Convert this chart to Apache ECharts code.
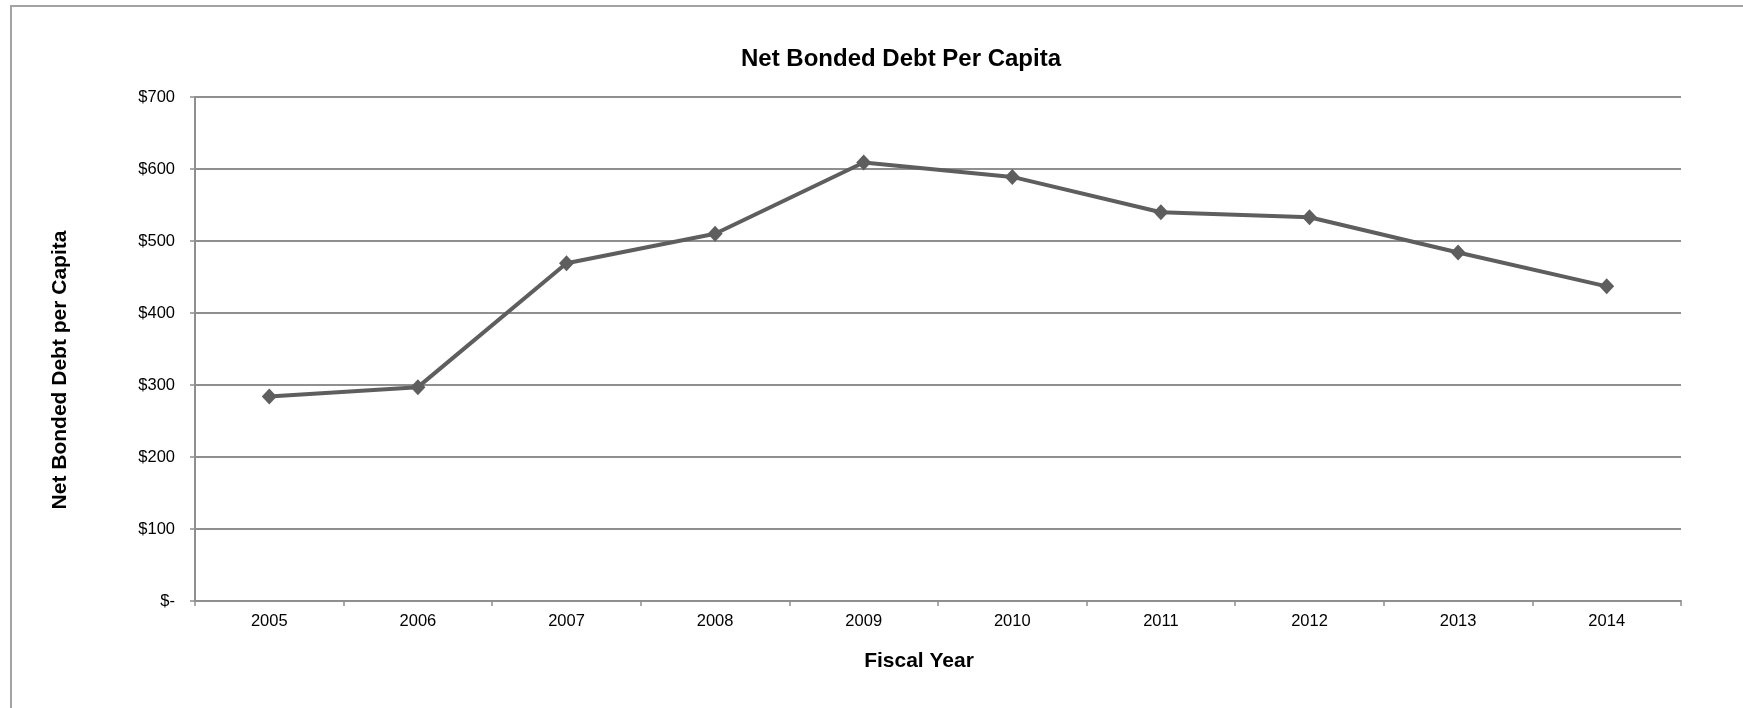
<!DOCTYPE html>
<html>
<head>
<meta charset="utf-8">
<script src="https://cdn.jsdelivr.net/npm/echarts@6/dist/echarts.min.js"></script>
<style>
  html, body { margin: 0; padding: 0; background: #ffffff; }
  #chart { width: 1743px; height: 708px; }
</style>
</head>
<body>
<div id="chart"></div>
<script>
const chartTitle = 'Net Bonded Debt Per Capita';
const xAxisTitle = 'Fiscal Year';
const yAxisTitle = 'Net Bonded Debt per Capita';
const years = ['2005', '2006', '2007', '2008', '2009', '2010', '2011', '2012', '2013', '2014'];
const debtPerCapita = [284, 297, 469, 510, 609, 589, 540, 533, 484, 437];
const yTicks = { min: 0, max: 700, interval: 100 };

const chart = echarts.init(document.getElementById('chart'), null, { renderer: 'canvas' });
const font = '"Liberation Sans", Arial, "DejaVu Sans", sans-serif';
const gridColor = '#8f8f8f';

chart.setOption({
  backgroundColor: '#ffffff',
  animation: false,
  graphic: [
    {
      type: 'rect',
      shape: { x: 11, y: 6, width: 1800, height: 800 },
      style: { fill: 'none', stroke: '#a3a3a3', lineWidth: 2 },
      silent: true, z: 0
    },
    {
      type: 'text',
      x: 901, y: 59,
      style: {
        text: chartTitle, x: 0, y: 0, align: 'center', verticalAlign: 'middle',
        font: 'bold 24px ' + font, fill: '#000000'
      }
    },
    {
      type: 'text',
      x: 919, y: 661,
      style: {
        text: xAxisTitle, x: 0, y: 0, align: 'center', verticalAlign: 'middle',
        font: 'bold 21px ' + font, fill: '#000000'
      }
    },
    {
      type: 'text',
      x: 60, y: 370, rotation: Math.PI / 2,
      style: {
        text: yAxisTitle, x: 0, y: 0, align: 'center', verticalAlign: 'middle',
        font: 'bold 21px ' + font, fill: '#000000'
      }
    }
  ],
  grid: { left: 195, right: 62, top: 97, bottom: 107, containLabel: false },
  xAxis: {
    type: 'category',
    data: years,
    boundaryGap: true,
    axisLine: { show: true, lineStyle: { color: gridColor, width: 2 } },
    axisTick: { show: true, alignWithLabel: false, length: 5, lineStyle: { color: gridColor, width: 1.5 } },
    axisLabel: { color: '#000000', fontSize: 16.5, fontFamily: font, margin: 12 },
    splitLine: { show: false }
  },
  yAxis: {
    type: 'value',
    min: yTicks.min, max: yTicks.max, interval: yTicks.interval,
    axisLine: { show: true, lineStyle: { color: gridColor, width: 2 } },
    axisTick: { show: true, length: 5, lineStyle: { color: gridColor, width: 1.5 } },
    axisLabel: {
      color: '#000000', fontSize: 16.5, fontFamily: font, margin: 20,
      formatter: function (v) { return v === 0 ? '$-' : '$' + v; }
    },
    splitLine: { show: true, lineStyle: { color: gridColor, width: 2 } }
  },
  series: [{
    type: 'line',
    data: debtPerCapita,
    symbol: 'diamond',
    symbolSize: [15, 16],
    showAllSymbol: true,
    lineStyle: { color: '#5e5e5e', width: 4 },
    itemStyle: { color: '#5e5e5e' },
    z: 5
  }]
});
</script>
</body>
</html>
